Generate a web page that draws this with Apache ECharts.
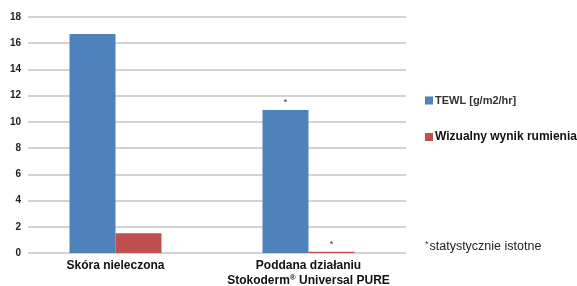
<!DOCTYPE html>
<html>
<head>
<meta charset="utf-8">
<script src="https://cdn.jsdelivr.net/npm/echarts@6/dist/echarts.min.js"></script>
<style>
html,body{margin:0;padding:0;background:#fff;}
#chart_main{width:577px;height:286px;}
</style>
</head>
<body>
<div id="chart_main"></div>
<script type="text/javascript">
var categories = ['Skóra nieleczona', 'Poddana działaniu\nStokoderm® Universal PURE'];
var tewl = [16.7, 10.9];
var rumien = [1.5, 0.1];
var tewlSig = [false, true];
var rumienSig = [false, true];
var yTicks = [0, 2, 4, 6, 8, 10, 12, 14, 16, 18];
var seriesNames = ['TEWL [g/m2/hr]', 'Wizualny wynik rumienia'];
var noteText = 'statystycznie istotne';

var FONT = '"Liberation Sans", Arial, sans-serif';

function withStars(vals, sig){
	var out = [];
	for(var i=0;i<vals.length;i++){
		if(sig[i]){
			out.push({value: vals[i], label: {show: true, position: 'top', distance: 3, formatter: '*', fontSize: 9, color: '#333', fontFamily: FONT}});
		}else{
			out.push(vals[i]);
		}
	}
	return out;
}

var myChart = echarts.init(document.getElementById('chart_main'));
var option = {
	animation: false,
	color: ['#4f81bd', '#c0504d'],
	legend: {
		orient: 'vertical',
		left: 420,
		top: 90,
		itemWidth: 8,
		itemHeight: 8,
		itemGap: 25,
		icon: 'rect',
		data: [
			{name: seriesNames[0], textStyle: {fontWeight: 'bold', fontSize: 11, color: '#333', fontFamily: FONT}},
			{name: seriesNames[1], textStyle: {fontWeight: 'bold', fontSize: 12, color: '#111', fontFamily: FONT}}
		],
		textStyle: {padding: [0, 0, 0, -3]}
	},
	grid: [
		{left: 28, right: 171, top: 17, bottom: 33, outerBoundsMode: 'none'},
		{left: 19, width: 386, top: 17, bottom: 33, outerBoundsMode: 'none'}
	],
	xAxis: [
		{gridIndex: 0, type: 'category', data: categories, show: false},
		{gridIndex: 1, type: 'category', data: categories,
			axisLine: {show: false}, axisTick: {show: false},
			axisLabel: {interval: 0, fontSize: 12, fontWeight: 'bold', color: '#111', fontFamily: FONT, lineHeight: 15, margin: 5,
				formatter: function(v){ return v.replace('®', '{sup|®}'); },
				rich: {sup: {fontSize: 8, fontWeight: 'bold', color: '#111', fontFamily: FONT, lineHeight: 15, padding: [0, 0, 6, 0]}}}}
	],
	yAxis: [
		{gridIndex: 0, type: 'value', min: yTicks[0], max: yTicks[yTicks.length-1], interval: 2,
			axisLine: {show: false}, axisTick: {show: false},
			axisLabel: {fontSize: 10, fontWeight: 'bold', color: '#222', fontFamily: FONT, margin: 7},
			splitLine: {lineStyle: {color: '#c4c4c4', width: 1.5}}},
		{gridIndex: 1, type: 'value', min: yTicks[0], max: yTicks[yTicks.length-1], interval: 2, show: false, splitLine: {show: false}}
	],
	series: [
		{name: seriesNames[0], type: 'bar', xAxisIndex: 1, yAxisIndex: 1, barWidth: 46, barGap: '0%', data: withStars(tewl, tewlSig)},
		{name: seriesNames[1], type: 'bar', xAxisIndex: 1, yAxisIndex: 1, barWidth: 46, barGap: '0%', data: withStars(rumien, rumienSig)}
	],
	graphic: [
		{type: 'text', left: 425, top: 240, style: {
			text: '{s|*}{t|' + noteText + '}',
			rich: {
				s: {fontSize: 9, fill: '#333', fontFamily: FONT, padding: [0, 1, 3, 0], verticalAlign: 'middle'},
				t: {fontSize: 12.5, fill: '#222', fontFamily: FONT}
			}
		}}
	]
};
myChart.setOption(option);
</script>
</body>
</html>
